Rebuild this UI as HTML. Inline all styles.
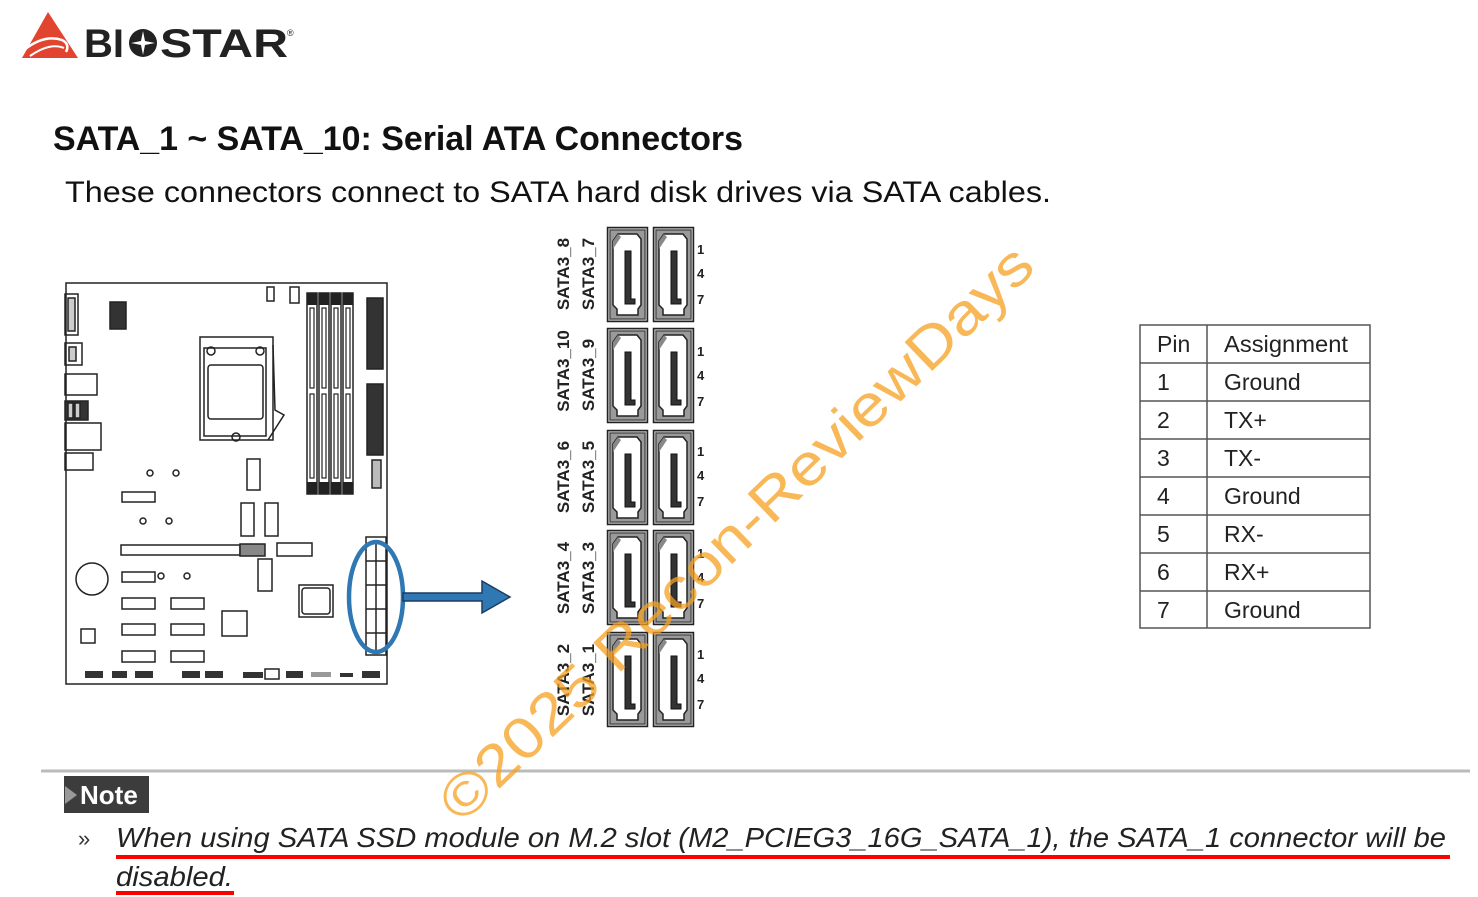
<!DOCTYPE html>
<html><head><meta charset="utf-8"><style>
html,body{margin:0;padding:0;background:#fff;}
svg{display:block;}
</style></head><body>
<svg width="1478" height="897" viewBox="0 0 1478 897" xmlns="http://www.w3.org/2000/svg">
<defs>
<g id="conn">
<rect x="0.5" y="0.5" width="40" height="94" fill="#bdbdbd" stroke="#222" stroke-width="1.5"/>
<rect x="3" y="3" width="35" height="89" fill="#9a9a9a" stroke="#333" stroke-width="1"/>
<path d="M11,7 L30,7 L34,12 L34,78 L31,82 L31,88 L10,88 L10,82 L6,78 L6,14 Z" fill="#fff" stroke="#222" stroke-width="1.5"/>
<path d="M11,7 L6,14 L6,22 L14,10 Z" fill="#888"/>
<path d="M18,24 L24,24 L24,72 L28,72 L28,77 L18,77 Z" fill="#333" stroke="#111" stroke-width="1"/>
</g>
<g id="dimm">
<rect x="0" y="0" width="10" height="201" fill="#fff" stroke="#222" stroke-width="1.5"/>
<rect x="0" y="0" width="10" height="12" fill="#222"/>
<rect x="0" y="189" width="10" height="12" fill="#222"/>
<rect x="3" y="15" width="4" height="80" fill="none" stroke="#222" stroke-width="1.2"/>
<rect x="3" y="101" width="4" height="84" fill="none" stroke="#222" stroke-width="1.2"/>
</g>
</defs>

<!-- Logo -->
<path d="M48,12 L78,58 L22,58 Z" fill="#e2452f"/>
<path d="M24,50 Q44,34 62,40 Q70,44 66,52" fill="none" stroke="#fff" stroke-width="2.5"/>
<path d="M30,56 Q50,42 64,48" fill="none" stroke="#fff" stroke-width="2"/>
<text x="84" y="57" font-family="Liberation Sans, sans-serif" font-weight="bold" font-size="40" fill="#222" textLength="40" lengthAdjust="spacingAndGlyphs">BI</text>
<circle cx="143" cy="43" r="14" fill="#222"/>
<path d="M143,31 L145,41 L155,43 L145,45 L143,55 L141,45 L131,43 L141,41 Z" fill="#fff"/>
<text x="160" y="57" font-family="Liberation Sans, sans-serif" font-weight="bold" font-size="40" fill="#222" textLength="128" lengthAdjust="spacingAndGlyphs">STAR</text>
<text x="287" y="36" font-family="Liberation Sans, sans-serif" font-size="9" fill="#222">®</text>

<!-- Titles -->
<text x="53" y="150" font-family="Liberation Sans, sans-serif" font-weight="bold" font-size="34" fill="#111" textLength="690" lengthAdjust="spacingAndGlyphs">SATA_1 ~ SATA_10: Serial ATA Connectors</text>
<text x="65" y="202" font-family="Liberation Sans, sans-serif" font-size="30" fill="#111" textLength="986" lengthAdjust="spacingAndGlyphs">These connectors connect to SATA hard disk drives via SATA cables.</text>

<!-- Motherboard -->
<g fill="none" stroke="#222" stroke-width="1.5">
<rect x="66" y="283" width="321" height="401"/>
<rect x="65" y="294" width="13" height="41"/><rect x="68" y="298" width="7" height="33" fill="#ccc"/>
<rect x="65" y="343" width="17" height="22"/><rect x="69" y="347" width="7" height="14" fill="#ccc"/>
<rect x="65" y="374" width="32" height="21"/>
<rect x="65" y="401" width="23" height="19" fill="#333"/><rect x="68" y="403" width="5" height="15" fill="#ccc"/><rect x="75" y="403" width="5" height="15" fill="#ccc"/>
<rect x="65" y="423" width="36" height="27"/>
<rect x="65" y="453" width="28" height="17"/>
<rect x="110" y="302" width="16" height="27" fill="#333"/>
<rect x="267" y="287" width="7" height="14"/><rect x="290" y="287" width="9" height="16"/>
<rect x="200" y="337" width="73" height="103"/>
<rect x="204" y="348" width="62" height="88"/>
<rect x="208" y="365" width="55" height="54" rx="3"/>
<circle cx="211" cy="351" r="4"/><circle cx="260" cy="351" r="4"/><circle cx="236" cy="437" r="4"/>
<path d="M273,345 L275,410 L284,415 L268,440"/>
<rect x="367" y="298" width="16" height="71" fill="#333"/>
<rect x="367" y="384" width="16" height="71" fill="#333"/>
<rect x="372" y="460" width="9" height="28" fill="#bbb"/>
<circle cx="150" cy="473" r="3"/><circle cx="176" cy="473" r="3"/>
<circle cx="143" cy="521" r="3"/><circle cx="169" cy="521" r="3"/>
<circle cx="161" cy="576" r="3"/><circle cx="187" cy="576" r="3"/>
<rect x="122" y="492" width="33" height="10"/>
<rect x="247" y="459" width="13" height="31"/>
<rect x="241" y="503" width="13" height="33"/><rect x="265" y="503" width="13" height="33"/>
<rect x="121" y="545" width="119" height="10"/><rect x="240" y="544" width="25" height="12" fill="#888"/>
<rect x="277" y="543" width="35" height="13"/>
<rect x="258" y="559" width="14" height="32"/>
<circle cx="92" cy="579" r="16"/>
<rect x="122" y="572" width="33" height="10"/>
<rect x="122" y="598" width="33" height="11"/><rect x="171" y="598" width="33" height="11"/>
<rect x="122" y="624" width="33" height="11"/><rect x="171" y="624" width="33" height="11"/>
<rect x="122" y="651" width="33" height="11"/><rect x="171" y="651" width="33" height="11"/>
<rect x="299" y="585" width="34" height="32"/><rect x="302" y="588" width="28" height="26" rx="3"/>
<rect x="222" y="611" width="25" height="25"/>
<rect x="81" y="629" width="14" height="14"/>
<rect x="366" y="537" width="20" height="118"/>
<line x1="366" y1="561" x2="386" y2="561"/><line x1="366" y1="585" x2="386" y2="585"/><line x1="366" y1="609" x2="386" y2="609"/><line x1="366" y1="633" x2="386" y2="633"/>
<line x1="376" y1="541" x2="376" y2="651"/>
</g>
<use href="#dimm" x="307" y="293"/><use href="#dimm" x="319" y="293"/><use href="#dimm" x="331" y="293"/><use href="#dimm" x="343" y="293"/>
<g fill="#333">
<rect x="85" y="671" width="18" height="7"/><rect x="112" y="671" width="15" height="7"/><rect x="135" y="671" width="18" height="7"/>
<rect x="182" y="671" width="18" height="7"/><rect x="205" y="671" width="18" height="7"/><rect x="243" y="672" width="20" height="6"/>
<rect x="286" y="671" width="17" height="7"/><rect x="311" y="672" width="20" height="5" fill="#999"/><rect x="340" y="673" width="13" height="4"/><rect x="362" y="671" width="18" height="7"/>
</g>
<rect x="265" y="669" width="14" height="10" fill="none" stroke="#222" stroke-width="1.5"/>

<!-- blue ellipse + arrow -->
<ellipse cx="376" cy="597" rx="27" ry="55" fill="none" stroke="#2f78b4" stroke-width="4.5"/>
<path d="M403,593 L482,593 L482,581 L510,597 L482,613 L482,601 L403,601 Z" fill="#2f78b4" stroke="#1a3c60" stroke-width="1.5"/>

<!-- SATA connectors -->
<g>
<use href="#conn" x="607" y="227"/><use href="#conn" x="653" y="227"/>
<use href="#conn" x="607" y="328"/><use href="#conn" x="653" y="328"/>
<use href="#conn" x="607" y="430"/><use href="#conn" x="653" y="430"/>
<use href="#conn" x="607" y="530"/><use href="#conn" x="653" y="530"/>
<use href="#conn" x="607" y="632"/><use href="#conn" x="653" y="632"/>
</g>
<g font-family="Liberation Sans, sans-serif" font-weight="bold" font-size="17" fill="#222">
<text transform="translate(569,274) rotate(-90)" text-anchor="middle">SATA3_8</text>
<text transform="translate(594,274) rotate(-90)" text-anchor="middle">SATA3_7</text>
<text transform="translate(569,371) rotate(-90)" text-anchor="middle">SATA3_10</text>
<text transform="translate(594,375) rotate(-90)" text-anchor="middle">SATA3_9</text>
<text transform="translate(569,477) rotate(-90)" text-anchor="middle">SATA3_6</text>
<text transform="translate(594,477) rotate(-90)" text-anchor="middle">SATA3_5</text>
<text transform="translate(569,578) rotate(-90)" text-anchor="middle">SATA3_4</text>
<text transform="translate(594,578) rotate(-90)" text-anchor="middle">SATA3_3</text>
<text transform="translate(569,680) rotate(-90)" text-anchor="middle">SATA3_2</text>
<text transform="translate(594,680) rotate(-90)" text-anchor="middle">SATA3_1</text>
</g>
<g font-family="Liberation Sans, sans-serif" font-weight="bold" font-size="13" fill="#222">
<text x="697" y="254">1</text><text x="697" y="278">4</text><text x="697" y="304">7</text>
<text x="697" y="356">1</text><text x="697" y="380">4</text><text x="697" y="406">7</text>
<text x="697" y="456">1</text><text x="697" y="480">4</text><text x="697" y="506">7</text>
<text x="697" y="558">1</text><text x="697" y="582">4</text><text x="697" y="608">7</text>
<text x="697" y="659">1</text><text x="697" y="683">4</text><text x="697" y="709">7</text>
</g>

<!-- Table -->
<g fill="none" stroke="#555" stroke-width="1.5">
<rect x="1140" y="325" width="230" height="303"/>
<line x1="1207" y1="325" x2="1207" y2="628"/>
<line x1="1140" y1="363" x2="1370" y2="363"/><line x1="1140" y1="401" x2="1370" y2="401"/>
<line x1="1140" y1="439" x2="1370" y2="439"/><line x1="1140" y1="477" x2="1370" y2="477"/>
<line x1="1140" y1="515" x2="1370" y2="515"/><line x1="1140" y1="553" x2="1370" y2="553"/>
<line x1="1140" y1="591" x2="1370" y2="591"/>
</g>
<g font-family="Liberation Sans, sans-serif" font-size="23" fill="#222">
<text x="1157" y="352">Pin</text><text x="1224" y="352" textLength="124" lengthAdjust="spacingAndGlyphs">Assignment</text>
<text x="1157" y="390">1</text><text x="1224" y="390">Ground</text>
<text x="1157" y="428">2</text><text x="1224" y="428">TX+</text>
<text x="1157" y="466">3</text><text x="1224" y="466">TX-</text>
<text x="1157" y="504">4</text><text x="1224" y="504">Ground</text>
<text x="1157" y="542">5</text><text x="1224" y="542">RX-</text>
<text x="1157" y="580">6</text><text x="1224" y="580">RX+</text>
<text x="1157" y="618">7</text><text x="1224" y="618">Ground</text>
</g>

<!-- Note -->
<line x1="41" y1="771" x2="1470" y2="771" stroke="#bbb" stroke-width="3"/>
<rect x="64" y="776" width="85" height="37" fill="#3c3c3c"/>
<path d="M65,786 L77,795 L65,804 Z" fill="#999"/>
<text x="80" y="804" font-family="Liberation Sans, sans-serif" font-weight="bold" font-size="26" fill="#fff">Note</text>
<text x="78" y="846" font-family="Liberation Sans, sans-serif" font-size="22" fill="#333">»</text>
<text x="116" y="847" font-family="Liberation Sans, sans-serif" font-style="italic" font-size="28" fill="#222" textLength="1330" lengthAdjust="spacingAndGlyphs">When using SATA SSD module on M.2 slot (M2_PCIEG3_16G_SATA_1), the SATA_1 connector will be</text>
<text x="116" y="886" font-family="Liberation Sans, sans-serif" font-style="italic" font-size="28" fill="#222" textLength="117" lengthAdjust="spacingAndGlyphs">disabled.</text>
<rect x="116" y="855" width="1334" height="4" fill="#f00"/>
<rect x="116" y="891" width="118" height="4" fill="#f00"/>

<!-- Watermark -->
<text transform="translate(462,825) rotate(-44)" font-family="Liberation Sans, sans-serif" font-size="58" fill="#f5a020" fill-opacity="0.75" textLength="800" lengthAdjust="spacingAndGlyphs">©2025 Recon-ReviewDays</text>
</svg>
</body></html>
